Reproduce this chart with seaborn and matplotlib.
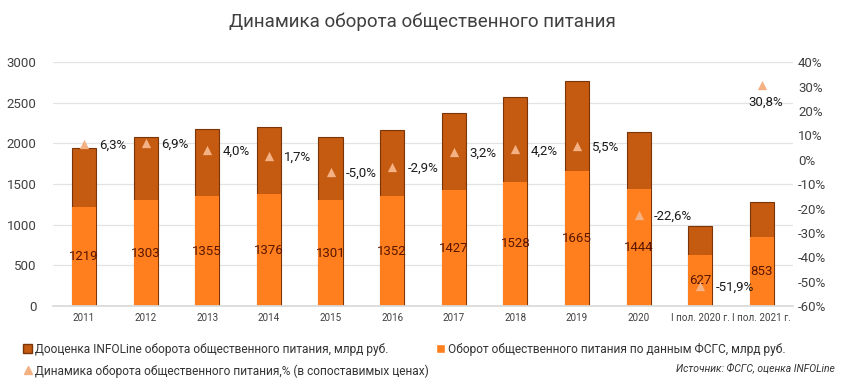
import numpy as np
import pandas as pd
import seaborn as sns
import matplotlib.pyplot as plt
from matplotlib.lines import Line2D
from matplotlib.patches import Patch

periods = ['2011', '2012', '2013', '2014', '2015', '2016', '2017', '2018',
           '2019', '2020', 'I пол. 2020 г.', 'I пол. 2021 г.']
fsgs = [1219, 1303, 1355, 1376, 1301, 1352, 1427, 1528, 1665, 1444, 627, 853]
infoline_add = [724, 776, 822, 826, 774, 813, 947, 1039, 1103, 700, 357, 426]
growth = [6.3, 6.9, 4.0, 1.7, -5.0, -2.9, 3.2, 4.2, 5.5, -22.6, -51.9, 30.8]

df = pd.DataFrame({'period': periods, 'fsgs': fsgs, 'add': infoline_add, 'growth': growth})
df['total'] = df['fsgs'] + df['add']

sns.set_theme(style='white')
plt.rcParams['font.family'] = ['Roboto', 'DejaVu Sans']

dark = '#C55A11'
orange = '#FF7F1E'
peach = '#F4B183'
edge = '#7A3508'

fig = plt.figure(figsize=(8.45, 3.86), dpi=100)
ax = fig.add_axes([0.063, 0.207, 0.875, 0.632])

sns.barplot(data=df, x='period', y='total', color=dark, width=0.39,
            edgecolor=edge, linewidth=0.8, saturation=1, ax=ax)
sns.barplot(data=df, x='period', y='fsgs', color=orange, width=0.39,
            edgecolor=orange, linewidth=0.0, saturation=1, ax=ax)

ax.set_ylim(0, 3000)
ax.set_yticks(range(0, 3001, 500))
ax.set_xlim(-0.5, len(periods) - 0.5)
ax.yaxis.grid(True, color='#E3E3E3', linewidth=0.9)
ax.set_axisbelow(True)
ax.set_xlabel('')
ax.set_ylabel('')
for s in ax.spines.values():
    s.set_visible(False)
ax.spines['bottom'].set_visible(True)
ax.spines['bottom'].set_color('#D9D9D9')
ax.tick_params(axis='y', labelsize=9.5, colors='#404040', length=0, pad=12)
ax.tick_params(axis='x', labelsize=7.1, colors='#404040', length=0, pad=5)

for i, v in enumerate(fsgs):
    ax.text(i, v / 2, str(v), ha='center', va='center', fontsize=9.5, color='#5A1500')

ax2 = ax.twinx()
ax2.set_ylim(-60, 40)
ax2.set_yticks(range(-60, 41, 10))
ax2.set_yticklabels([f'{t}%' for t in range(-60, 41, 10)])
for s in ax2.spines.values():
    s.set_visible(False)
ax2.tick_params(axis='y', labelsize=9.5, colors='#404040', length=0, pad=4)
sns.scatterplot(x=np.arange(len(periods)), y=growth, marker='^', color=peach,
                s=45, linewidth=0, ax=ax2, zorder=5)
for i, g in enumerate(growth):
    lab = f'{g:.1f}%'.replace('.', ',')
    if i == len(growth) - 1:
        ax2.annotate(lab, (i, g), xytext=(3, -8), textcoords='offset points',
                     ha='center', va='top', fontsize=9.5, color='#1a1a1a')
    else:
        ax2.annotate(lab, (i, g), xytext=(11, -1), textcoords='offset points',
                     ha='left', va='center', fontsize=9.5, color='#1a1a1a')

fig.text(0.5, 0.943, 'Динамика оборота общественного питания', ha='center', va='center',
         fontsize=13.5, color='#404040')

handles = [Patch(facecolor=dark, edgecolor=edge),
           Line2D([], [], marker='^', color=peach, linestyle='', markersize=6),
           Patch(facecolor=orange)]
labels = ['Дооценка INFOLine оборота общественного питания, млрд руб.',
          'Динамика оборота общественного питания,% (в сопоставимых ценах)',
          'Оборот общественного питания по данным ФСГС, млрд руб.']
fig.legend(handles, labels, ncol=2, loc='upper left', bbox_to_anchor=(0.015, 0.14),
           frameon=False, fontsize=8.6, handlelength=0.7, handleheight=0.7,
           handletextpad=0.3, columnspacing=0.6, labelspacing=0.7, labelcolor='#333333')
fig.text(0.988, 0.048, 'Источник: ФСГС, оценка INFOLine', ha='right', va='center',
         fontsize=7.5, style='italic', color='#333333')

fig.savefig('out.png', dpi=100)
